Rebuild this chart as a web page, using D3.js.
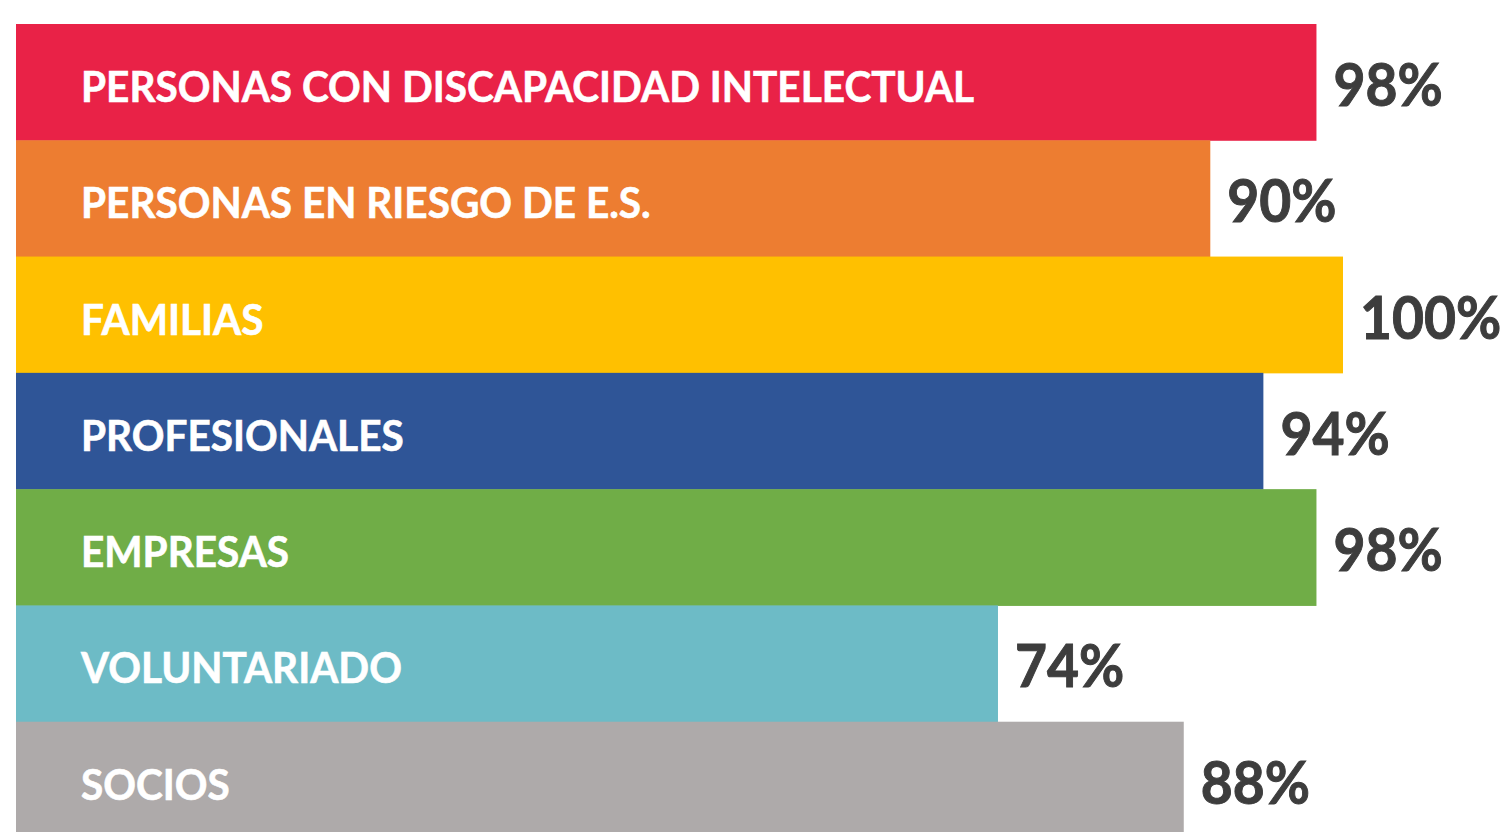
<!DOCTYPE html>
<html>
<head>
<meta charset="utf-8">
<script src="https://cdn.jsdelivr.net/npm/d3@7"></script>
<style>
  html, body { margin: 0; padding: 0; background: #fff; }
  svg { display: block; }
</style>
</head>
<body>
<svg id="chart" width="1504" height="832"></svg>
<script>
const categories = [
  "PERSONAS CON DISCAPACIDAD INTELECTUAL",
  "PERSONAS EN RIESGO DE E.S.",
  "FAMILIAS",
  "PROFESIONALES",
  "EMPRESAS",
  "VOLUNTARIADO",
  "SOCIOS"
];
const values = [98, 90, 100, 94, 98, 74, 88];
const colors = ["#E92247", "#ED7D31", "#FFC000", "#2F5597", "#70AD47", "#6DBBC6", "#AEAAAA"];

const data = categories.map((c, i) => ({ cat: c, value: values[i], color: colors[i] }));

const svg = d3.select('#chart');

const x = d3.scaleLinear()
  .domain([0, 100])
  .range([16, 1343]);

const y = d3.scaleBand()
  .domain(categories)
  .range([24, 838])
  .paddingInner(0);

const font = "Lato, 'Open Sans', sans-serif";

// squeeze text a little so Lato takes the width of the original Calibri
function squeeze(sel, k) {
  sel.each(function () {
    const w = this.getComputedTextLength();
    d3.select(this)
      .attr('textLength', w * k)
      .attr('lengthAdjust', 'spacingAndGlyphs');
  });
}

// bars
svg.append('g')
  .selectAll('rect')
  .data(data)
  .join('rect')
  .attr('x', x(0))
  .attr('y', d => y(d.cat))
  .attr('width', d => x(d.value) - x(0))
  .attr('height', y.bandwidth() + 0.5)
  .attr('fill', d => d.color);

// category labels inside bars
svg.append('g')
  .selectAll('text')
  .data(data)
  .join('text')
  .attr('x', 81)
  .attr('y', d => y(d.cat) + 78)
  .attr('fill', '#fff')
  .attr('stroke', '#fff')
  .attr('stroke-width', 0.6)
  .attr('font-family', font)
  .attr('font-weight', 700)
  .attr('font-size', '42px')
  .text(d => d.cat)
  .call(squeeze, 0.965);

// value labels
svg.append('g')
  .selectAll('text')
  .data(data)
  .join('text')
  .attr('x', d => x(d.value) + 17)
  .attr('y', d => y(d.cat) + 82)
  .attr('fill', '#3D3D3D')
  .attr('stroke', '#3D3D3D')
  .attr('stroke-width', 1)
  .attr('font-family', font)
  .attr('font-weight', 700)
  .attr('font-size', '60px')
  .text(d => d.value + '%')
  .call(squeeze, 0.92);
</script>
</body>
</html>
